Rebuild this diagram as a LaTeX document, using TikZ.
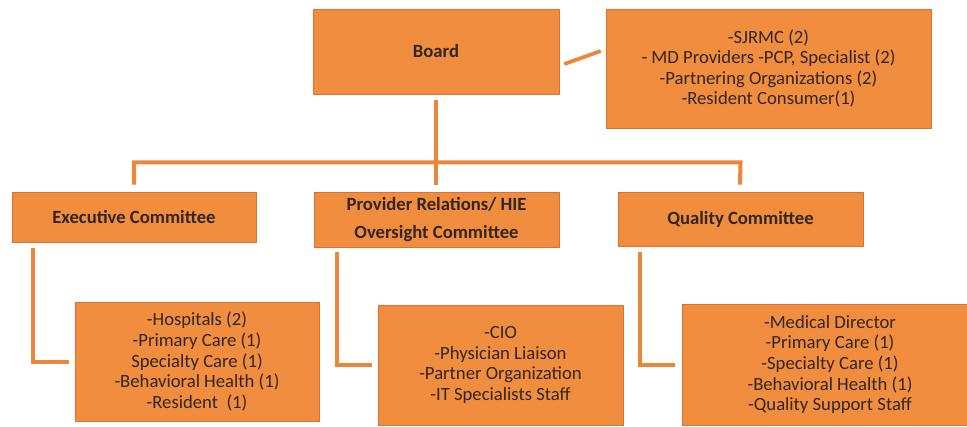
\documentclass[tikz,border=0pt]{standalone}
\usepackage{fontspec}
\setmainfont{Carlito}
\usetikzlibrary{calc}
\definecolor{boxfill}{RGB}{240,141,62}
\definecolor{boxline}{RGB}{222,112,48}
\definecolor{connc}{RGB}{236,134,56}
\definecolor{txt}{RGB}{50,38,32}
\begin{document}
\begin{tikzpicture}[x=0.75pt,y=-0.75pt,
  box/.style={draw=boxline, line width=0.5pt, fill=boxfill, inner sep=0pt,
    align=center, text=txt, font=\fontsize{14}{15.4}\selectfont},
  titlebox/.style={box, font=\fontsize{14}{21}\selectfont\bfseries},
  conn/.style={draw=connc, line width=3pt, line cap=butt, line join=miter}]
\useasboundingbox (0,0) rectangle (967,426);
\clip (0,0) rectangle (967,426);
% top row
\node[titlebox, minimum width=246*0.75pt, minimum height=85*0.75pt] (board) at (436,51.5) {Board};
\node[box, minimum width=325*0.75pt, minimum height=119*0.75pt] (members) at (768.5,68.5)
  {-SJRMC (2)\\- MD Providers -PCP, Specialist (2)\\-Partnering Organizations (2)\\-Resident Consumer(1)};
% committees
\node[titlebox, minimum width=244*0.75pt, minimum height=50*0.75pt] (exec) at (134,217) {Executive Committee};
\node[titlebox, minimum width=245*0.75pt, minimum height=55*0.75pt] (prov) at (436.5,219.5) {Provider Relations/ HIE\\Oversight Committee};
\node[titlebox, minimum width=245*0.75pt, minimum height=54*0.75pt] (qual) at (740.5,219) {Quality Committee};
% sub boxes
\node[box, minimum width=244*0.75pt, minimum height=119*0.75pt] (execsub) at (197,361.5)
  {-Hospitals (2)\\-Primary Care (1)\\Specialty Care (1)\\-Behavioral Health (1)\\-Resident\ \ (1)};
\node[box, minimum width=245*0.75pt, minimum height=120*0.75pt] (provsub) at (500.5,365)
  {-CIO\\-Physician Liaison\\-Partner Organization\\-IT Specialists Staff};
\node[box, minimum width=296*0.75pt, minimum height=121*0.75pt] (qualsub) at (830,364.5)
  {-Medical Director\\-Primary Care (1)\\-Specialty Care (1)\\-Behavioral Health (1)\\-Quality Support Staff};
% connectors
\coordinate (bar) at ($(board.south)+(0,68)$);
\draw[conn] ($(board.south)+(0,6)$) -- ($(prov.north)+(-0.5,-7)$);
\draw[conn] ($(exec.north)+(0,-7)$) -- (exec.north |- bar) -- (qual.north |- bar) -- ($(qual.north)+(-0.5,-7)$);
\draw[conn, line width=2.8pt] ($(board.east)+(5,12.5)$) -- ($(members.west)+(-5,-17.5)$);
\draw[conn] ($(exec.south west)+(21,6)$) |- ($(execsub.west)+(-6,0.5)$);
\draw[conn] ($(prov.south west)+(23,5)$) |- ($(provsub.west)+(-6,0)$);
\draw[conn] ($(qual.south west)+(22,6)$) |- ($(qualsub.west)+(-7,0.5)$);
\end{tikzpicture}
\end{document}
